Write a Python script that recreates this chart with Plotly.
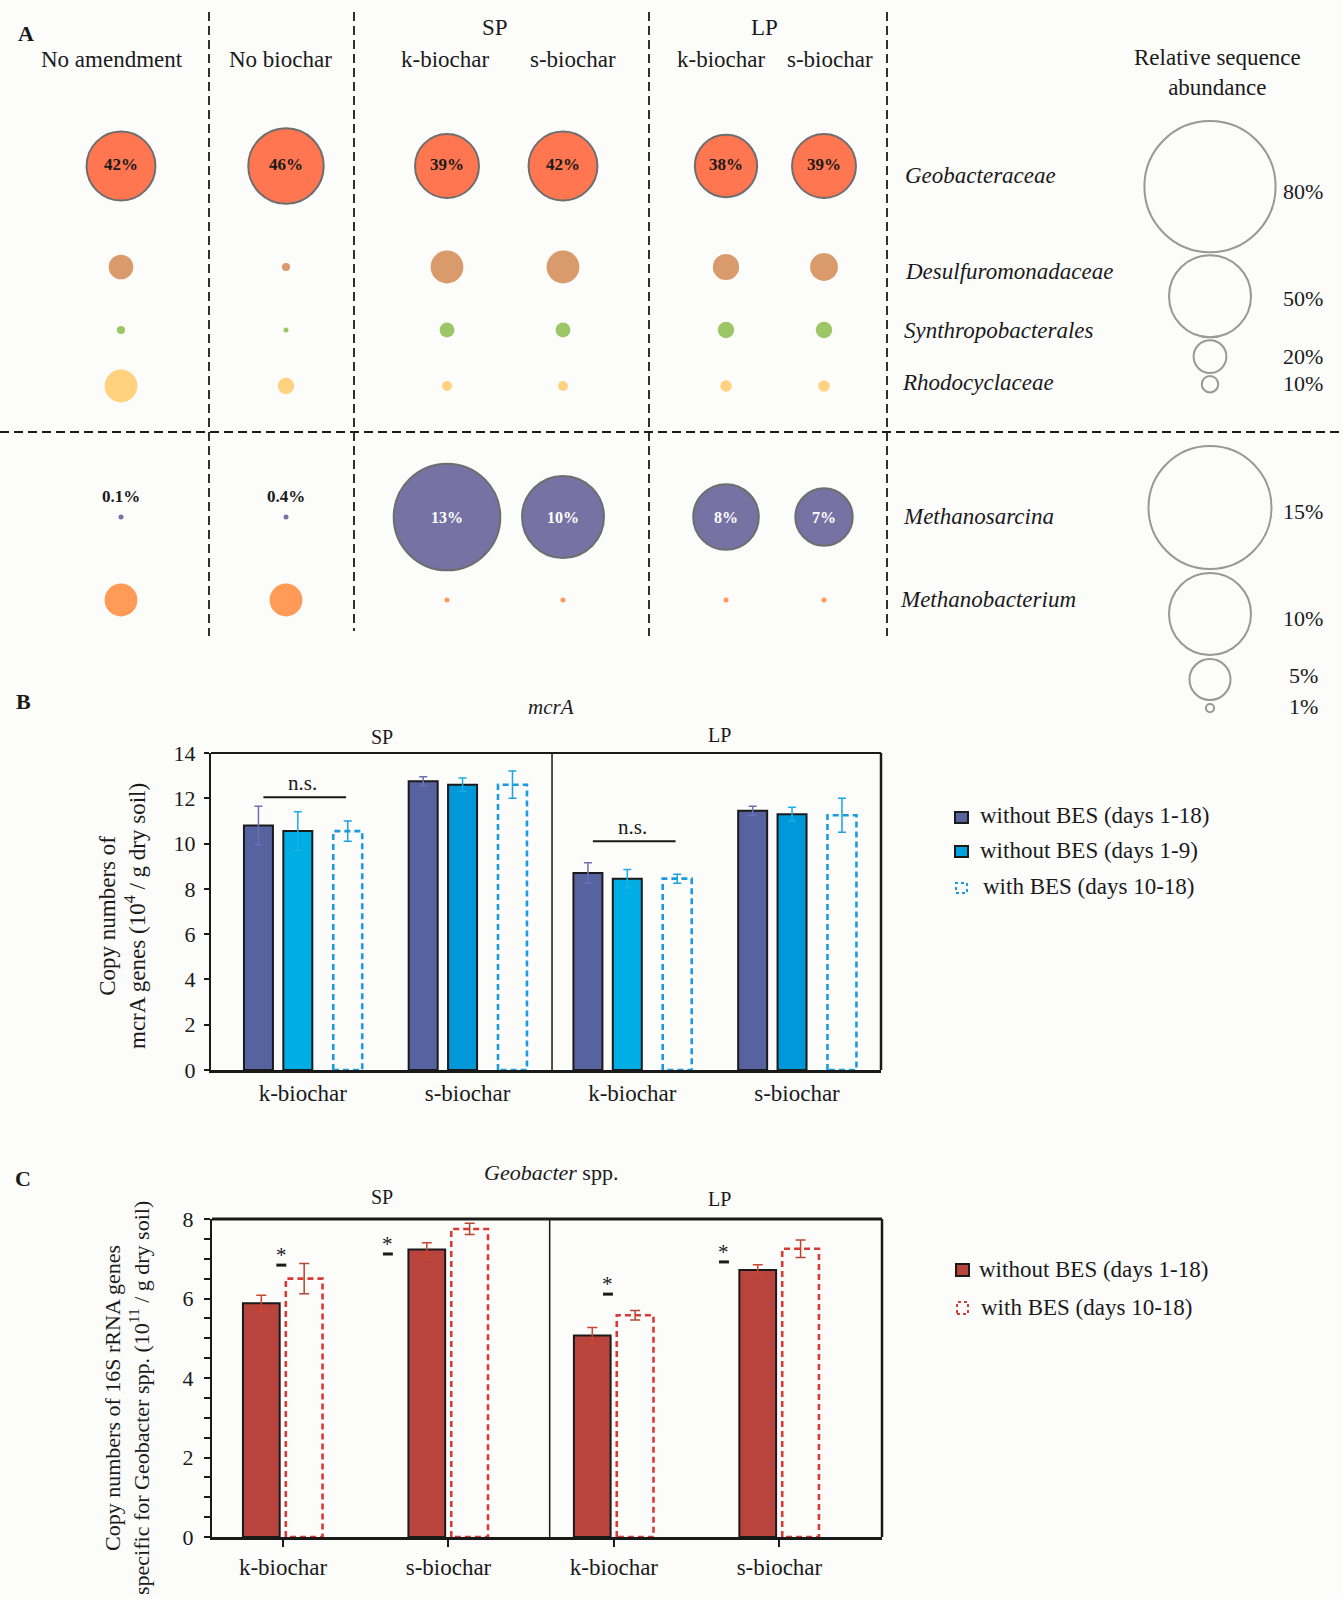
import plotly.graph_objects as go

W, H = 1343, 1599
FONT = "Liberation Serif"
INK = "#1a1a1a"
BG = "#FCFCFA"

# ---------------- Panel A: relative sequence abundance (%) ----------------
a_columns = ["No amendment", "No biochar", "SP k-biochar", "SP s-biochar",
             "LP k-biochar", "LP s-biochar"]
geobacteraceae = [42, 46, 39, 42, 38, 39]
desulfuromonadaceae = [15, 5, 20, 20, 16, 17]
synthropobacterales = [5, 2, 9, 9, 10, 10]
rhodocyclaceae = [20, 10, 6, 6, 7, 7]
methanosarcina = [0.1, 0.4, 13, 10, 8, 7]
methanobacterium = [4, 4, 0.5, 0.5, 0.5, 0.5]
bacteria_key_pct = [80, 50, 20, 10]
archaea_key_pct = [15, 10, 5, 1]

# ---------------- Panel B: mcrA copies (10^4 / g dry soil) ----------------
b_groups = ["k-biochar", "s-biochar", "k-biochar", "s-biochar"]
mcra_no_bes_1_18 = [10.8, 12.75, 8.7, 11.45]
mcra_no_bes_1_18_err = [0.85, 0.2, 0.45, 0.2]
mcra_no_bes_1_9 = [10.55, 12.6, 8.45, 11.3]
mcra_no_bes_1_9_err = [0.85, 0.3, 0.4, 0.3]
mcra_bes_10_18 = [10.55, 12.6, 8.45, 11.25]
mcra_bes_10_18_err = [0.45, 0.6, 0.2, 0.75]

# ---------------- Panel C: Geobacter 16S copies (10^11 / g dry soil) -------
c_groups = ["k-biochar", "s-biochar", "k-biochar", "s-biochar"]
geo_no_bes_1_18 = [5.88, 7.23, 5.07, 6.72]
geo_no_bes_1_18_err = [0.2, 0.17, 0.2, 0.13]
geo_bes_10_18 = [6.5, 7.75, 5.58, 7.25]
geo_bes_10_18_err = [0.38, 0.14, 0.12, 0.22]

# ---------------- layout constants (pixels) ----------------
COL_X = [121, 286, 447, 563, 726, 824]
ROW_Y = {"geo": 166, "desulf": 267, "syn": 330, "rhodo": 386,
         "msarc": 517, "mbact": 600}
BACT_PX = 1.64     # bubble diameter per % (bacteria)
ARCH_PX = 8.2      # bubble diameter per % (methanogens)
KEY_X = 1210

fig = go.Figure()


def pp(x, y):
    return x / W, 1 - y / H


def note(text, x, y, size=23, color=INK, xanchor="center", **kw):
    px_, py_ = pp(x, y)
    fig.add_annotation(text=text, x=px_, y=py_, xref="paper", yref="paper",
                       showarrow=False, xanchor=xanchor, yanchor="middle",
                       font=dict(family=FONT, size=size, color=color), **kw)


def pline(x0, y0, x1, y1, width=1.8, dash="9px,5px", color=INK):
    a0, b0 = pp(x0, y0)
    a1, b1 = pp(x1, y1)
    fig.add_shape(type="line", xref="paper", yref="paper", x0=a0, y0=b0,
                  x1=a1, y1=b1, line=dict(color=color, width=width, dash=dash))


def bubbles(values, row, color, scale, outline=None):
    sizes = [v * scale for v in values]
    widths = [2 if (outline and s >= 10) else 0 for s in sizes]
    fig.add_trace(go.Scatter(
        x=COL_X, y=[ROW_Y[row]] * len(values), mode="markers",
        marker=dict(size=sizes, sizemin=2.5, color=color, opacity=1,
                    line=dict(color=outline or color, width=widths)),
        xaxis="x", yaxis="y", showlegend=False, hoverinfo="skip"))


# ---- Panel A bubbles ----
bubbles(geobacteraceae, "geo", "#FF7651", BACT_PX, outline="#6E6E6E")
bubbles(desulfuromonadaceae, "desulf", "#D99A6C", BACT_PX)
bubbles(synthropobacterales, "syn", "#9DC666", BACT_PX)
bubbles(rhodocyclaceae, "rhodo", "#FFD280", BACT_PX)
bubbles(methanosarcina, "msarc", "#7672A4", ARCH_PX, outline="#6E6E6E")
bubbles(methanobacterium, "mbact", "#FF9A57", ARCH_PX)

# value labels
fig.add_trace(go.Scatter(
    x=COL_X, y=[ROW_Y["geo"]] * 6, mode="text",
    text=[f"<b>{v}%</b>" for v in geobacteraceae],
    textfont=dict(family=FONT, size=17, color=INK),
    xaxis="x", yaxis="y", showlegend=False, hoverinfo="skip"))
for cx, v in zip(COL_X, methanosarcina):
    if v * ARCH_PX < 20:
        fig.add_annotation(x=cx, y=ROW_Y["msarc"], xref="x", yref="y",
                           text=f"<b>{v:g}%</b>", showarrow=False, yshift=21,
                           font=dict(family=FONT, size=17, color=INK))
    else:
        fig.add_annotation(x=cx, y=ROW_Y["msarc"], xref="x", yref="y",
                           text=f"<b>{v:g}%</b>", showarrow=False,
                           font=dict(family=FONT, size=16, color="white"))


# size keys: stacked open circles
def size_key(values, scale, top, gap, label_dy):
    ys, sizes, cur = [], [], top
    for v in values:
        d = v * scale
        ys.append(cur + d / 2)
        sizes.append(d)
        cur += d + gap
    fig.add_trace(go.Scatter(
        x=[KEY_X] * len(values), y=ys, mode="markers",
        marker=dict(size=sizes, color="rgba(0,0,0,0)",
                    line=dict(color="#6E6E6E", width=2)),
        xaxis="x", yaxis="y", showlegend=False, hoverinfo="skip"))
    for v, yc, dy in zip(values, ys, label_dy):
        fig.add_annotation(x=1303, y=yc + dy, xref="x", yref="y",
                           text=f"{v}%", showarrow=False,
                           font=dict(family=FONT, size=22, color=INK))


size_key(bacteria_key_pct, BACT_PX, 121, 3, [5, 2, 0, -1])
size_key(archaea_key_pct, ARCH_PX, 446, 4, [4, 4, -4, -2])

# panel A text
note("<b>A</b>", 26, 33, size=22)
for txt, x in [("No amendment", 112), ("No biochar", 280), ("k-biochar", 445),
               ("s-biochar", 573), ("k-biochar", 721), ("s-biochar", 830)]:
    note(txt, x, 60)
note("SP", 495, 28)
note("LP", 764, 28)
note("Relative sequence<br>abundance", 1217, 73)
for txt, x, row in [("Geobacteraceae", 903, "geo"),
                    ("Desulfuromonadaceae", 903, "desulf"),
                    ("Synthropobacterales", 902, "syn"),
                    ("Rhodocyclaceae", 900, "rhodo"),
                    ("Methanosarcina", 901, "msarc"),
                    ("Methanobacterium", 898, "mbact")]:
    dy = {"geo": 10, "desulf": 4, "syn": 0, "rhodo": -3, "msarc": 0, "mbact": 0}[row]
    note(f"<i>{txt}</i>", x, ROW_Y[row] + dy, xanchor="left")

# dashed separators
for x, yb in [(209, 636), (354, 631), (649, 636), (887, 636)]:
    pline(x, 12, x, yb)
pline(0, 432, 1341, 432)

# ---------------- Panel B bars ----------------
B_OFF = [-0.269, -0.030, 0.273]
B_W = 0.176
gb = list(range(len(b_groups)))


def xs(offset, n):
    return [g + offset for g in range(n)]


fig.add_trace(go.Bar(
    x=xs(B_OFF[0], 4), y=mcra_no_bes_1_18, width=B_W,
    marker=dict(color="#56639F", line=dict(color=INK, width=2)),
    error_y=dict(type="data", array=mcra_no_bes_1_18_err, color="#6B70B4",
                 thickness=1.5, width=4),
    xaxis="x2", yaxis="y2", showlegend=False, hoverinfo="skip"))
fig.add_trace(go.Bar(
    x=xs(B_OFF[1], 4), y=mcra_no_bes_1_9, width=B_W,
    marker=dict(color=["#00AEE6", "#0098D8", "#00AEE6", "#0098D8"],
                line=dict(color=INK, width=2)),
    error_y=dict(type="data", array=mcra_no_bes_1_9_err, color="#1AAEE5",
                 thickness=1.5, width=4),
    xaxis="x2", yaxis="y2", showlegend=False, hoverinfo="skip"))
fig.add_trace(go.Bar(
    x=xs(B_OFF[2], 4), y=mcra_bes_10_18, width=B_W,
    marker=dict(color="rgba(0,0,0,0)", line=dict(width=0)),
    error_y=dict(type="data", array=mcra_bes_10_18_err, color="#1AA2E2",
                 thickness=1.5, width=4),
    xaxis="x2", yaxis="y2", showlegend=False, hoverinfo="skip"))


def dashed_outline(centers, values, width, color, xa, ya):
    px_, py_ = [], []
    for c, v in zip(centers, values):
        x0, x1 = c - width / 2, c + width / 2
        px_ += [x0, x0, x1, x1, x0, None]
        py_ += [0, v, v, 0, 0, None]
    fig.add_trace(go.Scatter(
        x=px_, y=py_, mode="lines",
        line=dict(color=color, width=2.6, dash="6px,4px"),
        xaxis=xa, yaxis=ya, showlegend=False, hoverinfo="skip"))


dashed_outline(xs(B_OFF[2], 4), mcra_bes_10_18, B_W, "#1B9AE0", "x2", "y2")

# n.s. brackets over the k-biochar groups
for g, level in [(0, 12.05), (2, 10.1)]:
    fig.add_shape(type="line", xref="x2", yref="y2",
                  x0=g + B_OFF[0] + 0.03, x1=g + B_OFF[2] - 0.01,
                  y0=level, y1=level, line=dict(color=INK, width=2))
    fig.add_annotation(x=g + 0.0, y=level, xref="x2", yref="y2", text="n.s.",
                       showarrow=False, yshift=14,
                       font=dict(family=FONT, size=21, color=INK))

# ---------------- Panel C bars ----------------
C_OFF = [-0.131, 0.128]
C_W = 0.222
fig.add_trace(go.Bar(
    x=xs(C_OFF[0], 4), y=geo_no_bes_1_18, width=C_W,
    marker=dict(color="#B9443E", line=dict(color=INK, width=2)),
    error_y=dict(type="data", array=geo_no_bes_1_18_err, color="#C8472E",
                 thickness=1.5, width=5),
    xaxis="x3", yaxis="y3", showlegend=False, hoverinfo="skip"))
fig.add_trace(go.Bar(
    x=xs(C_OFF[1], 4), y=geo_bes_10_18, width=C_W,
    marker=dict(color="rgba(0,0,0,0)", line=dict(width=0)),
    error_y=dict(type="data", array=geo_bes_10_18_err, color="#B8452F",
                 thickness=1.5, width=5),
    xaxis="x3", yaxis="y3", showlegend=False, hoverinfo="skip"))
dashed_outline(xs(C_OFF[1], 4), geo_bes_10_18, C_W, "#D93A36", "x3", "y3")

# significance marks
for g, dx, level in [(0, -0.01, 6.84), (1, -0.366, 7.12), (2, -0.036, 6.11),
                     (3, -0.335, 6.92)]:
    fig.add_shape(type="line", xref="x3", yref="y3",
                  x0=g + dx - 0.03, x1=g + dx + 0.03, y0=level, y1=level,
                  line=dict(color=INK, width=3))
    fig.add_annotation(x=g + dx, y=level, xref="x3", yref="y3", text="*",
                       showarrow=False, yshift=10,
                       font=dict(family=FONT, size=21, color=INK))

# ---------------- frames ----------------
for xa, ya, div, topw in [("x2", "y2", 0.509, 2), ("x3", "y3", 0.504, 3)]:
    fig.add_shape(type="line", xref=f"{xa} domain", yref=f"{ya} domain",
                  x0=0, x1=1, y0=1, y1=1, line=dict(color=INK, width=topw))
    fig.add_shape(type="line", xref=f"{xa} domain", yref=f"{ya} domain",
                  x0=1, x1=1, y0=0, y1=1, line=dict(color=INK, width=2.5))
    fig.add_shape(type="line", xref=f"{xa} domain", yref=f"{ya} domain",
                  x0=div, x1=div, y0=0, y1=1, line=dict(color=INK, width=1.5))

# ---------------- panel B / C text ----------------
note("<b>B</b>", 23, 702, size=22)
note("<i>mcrA</i>", 551, 707, size=21)
note("SP", 382, 737, size=20)
note("LP", 719, 735, size=20)
note("Copy numbers of<br>mcrA genes (10<sup>4</sup> / g dry soil)", 122, 916,
     size=23, textangle=-90)

note("<b>C</b>", 23, 1178, size=22)
note("<i>Geobacter</i> spp.", 551, 1172, size=22)
note("SP", 382, 1197, size=20)
note("LP", 719, 1199, size=20)
note("Copy numbers of 16S rRNA genes<br>specific for Geobacter spp. "
     "(10<sup>11</sup> / g dry soil)", 127, 1398, size=22, textangle=-90)


# ---------------- legends ----------------
def key_box(x0, y0, x1, y1, fill, line_color, dash="solid", lw=2):
    a0, b0 = pp(x0, y0)
    a1, b1 = pp(x1, y1)
    fig.add_shape(type="rect", xref="paper", yref="paper", x0=a0, y0=b1,
                  x1=a1, y1=b0, fillcolor=fill,
                  line=dict(color=line_color, width=lw, dash=dash))


key_box(955, 812, 968, 823, "#56639F", INK)
note("without BES (days 1-18)", 978, 816, size=23, xanchor="left")
key_box(955, 846, 968, 857, "#00A3E0", INK)
note("without BES (days 1-9)", 978, 850, size=23, xanchor="left")
key_box(956, 883, 967, 893, "rgba(0,0,0,0)", "#1B9AE0", dash="3px,3px")
note("with BES (days 10-18)", 981, 887, size=23, xanchor="left")

key_box(956, 1264, 969, 1276, "#B9443E", INK)
note("without BES (days 1-18)", 977, 1269, size=23, xanchor="left")
key_box(957, 1302, 968, 1314, "rgba(0,0,0,0)", "#D93A36", dash="3px,3px")
note("with BES (days 10-18)", 979, 1307, size=23, xanchor="left")

# ---------------- axes ----------------
tick_font = dict(family=FONT, size=22, color=INK)
fig.update_layout(
    width=W, height=H, autosize=False,
    margin=dict(l=0, r=0, t=0, b=0, pad=0, autoexpand=False),
    paper_bgcolor=BG, plot_bgcolor="rgba(0,0,0,0)",
    font=dict(family=FONT, color=INK),
    barmode="overlay", showlegend=False,
    xaxis=dict(domain=[0, 1], range=[0, W], visible=False),
    yaxis=dict(domain=[0, 1], range=[H, 0], visible=False),
    xaxis2=dict(domain=[211 / W, 881 / W], anchor="y2", range=[-0.557, 3.51],
                tickvals=gb, ticktext=b_groups, ticks="", showgrid=False,
                zeroline=False, showline=True, linecolor=INK, linewidth=3,
                tickfont=dict(family=FONT, size=23, color=INK),
                ticklabelstandoff=0, automargin=False),
    yaxis2=dict(domain=[1 - 1070 / H, 1 - 753 / H], anchor="x2",
                range=[0, 14], dtick=2, showgrid=False, zeroline=False,
                showline=True, linecolor=INK, linewidth=2, ticks="outside",
                ticklen=5, tickwidth=1.5, tickcolor=INK, tickfont=tick_font,
                ticklabelstandoff=4, automargin=False),
    xaxis3=dict(domain=[212 / W, 882 / W], anchor="y3", range=[-0.429, 3.62],
                tickvals=gb, ticktext=c_groups, ticks="outside", ticklen=7,
                tickwidth=1.5, tickcolor=INK, showgrid=False,
                zeroline=False, showline=True, linecolor=INK, linewidth=3,
                tickfont=dict(family=FONT, size=23, color=INK),
                ticklabelstandoff=0, automargin=False),
    yaxis3=dict(domain=[1 - 1537 / H, 1 - 1219 / H], anchor="x3",
                range=[0, 8], dtick=2, showgrid=False, zeroline=False,
                showline=True, linecolor=INK, linewidth=2, ticks="outside",
                ticklen=6, tickwidth=1.5, tickcolor=INK, tickfont=tick_font,
                ticklabelstandoff=6, automargin=False,
                minor=dict(dtick=0.5, ticks="outside", ticklen=6,
                           tickwidth=1.5, tickcolor=INK)),
)

fig.write_html("out.html")
